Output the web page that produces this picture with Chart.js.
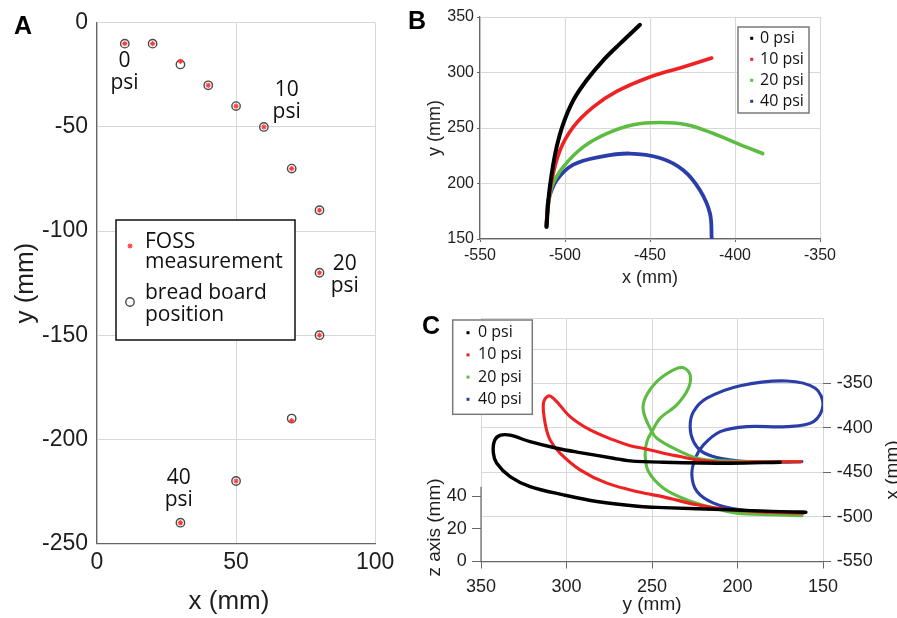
<!DOCTYPE html>
<html>
<head>
<meta charset="utf-8">
<script src="https://cdn.jsdelivr.net/npm/chart.js@4.4.1/dist/chart.umd.min.js"></script>
<style>
    html, body { margin: 0; padding: 0; background: #fff; }
    body { width: 897px; height: 618px; position: relative; overflow: hidden; }
    .painel { position: absolute; }
    #painelA { left: 0; top: 0; width: 400px; height: 618px; }
    #painelB { left: 400px; top: 0; width: 497px; height: 300px; }
    #painelC { left: 400px; top: 300px; width: 497px; height: 318px; }
</style>
</head>
<body>
<div class="painel" id="painelA"><canvas id="graficoA"></canvas></div>
<div class="painel" id="painelB"><canvas id="graficoB"></canvas></div>
<div class="painel" id="painelC"><canvas id="graficoC"></canvas></div>
<script>
// ---- Painel A: posições no plano (mm) ----
const aBoardX = [10, 20, 30, 40, 50, 60, 70, 80, 80, 80, 70, 50, 30];
const aBoardY = [-10, -10, -20, -30, -40, -50, -70, -90, -120, -150, -190, -220, -240];
const aFossX = [10, 20, 30, 40, 50, 60, 70, 80, 80, 80, 70, 50, 30];
const aFossY = [-10, -10, -18.5, -30, -40, -50, -70, -90, -120, -150, -191, -220, -240];
const aTicksX = [0, 50, 100];
const aTicksY = [-250, -200, -150, -100, -50, 0];
// rótulos de pressão (texto e ponto de ancoragem em mm)
const aPsiText = ['0', '10', '20', '40'];
const aPsiX = [9.9, 68.2, 89.1, 29.4];
const aPsiY = [-23.5, -37.6, -121.1, -224];

// ---- Painel B: trajetória da ponta, x (mm) vs y (mm) ----
const psiLabels = ['0 psi', '10 psi', '20 psi', '40 psi'];
const psiColors = ['#000000', '#ee2222', '#5cbd42', '#2b3ea8'];
const b0x = [-510.8, -509.8, -507.8, -504.9, -501, -495.1, -487.3, -477.5, -467.6, -455.9];
const b0y = [161, 185, 209, 233, 254, 275, 293, 311, 326, 343];
const b10x = [-511, -510.5, -507.8, -502.9, -495.1, -483.3, -469.6, -450, -430.4, -413.7];
const b10y = [162, 173, 203, 230, 251, 269, 283, 296, 305, 313];
const b20x = [-511, -510.5, -507.8, -501, -489.2, -475.5, -459.8, -444.1, -428.4, -412.7, -397.1, -383.7];
const b20y = [162, 170, 197, 215, 233, 245, 253, 255, 253, 245, 235, 227];
const b40x = [-511, -510.5, -509.8, -504.9, -495.1, -479.4, -461.8, -444.1, -430.4, -420.6, -414.7, -413.7];
const b40y = [161, 172, 185, 203, 217, 224, 227, 223, 212, 194, 173, 150];
const bTicksX = [-550, -500, -450, -400, -350];
const bTicksY = [150, 200, 250, 300, 350];

// ---- Painel C: vista 3D, y (mm) na horizontal e x (mm) no eixo da direita ----
const c0y = [175, 204.3, 243.3, 262.8, 272.6, 292.1, 305.7, 321.3, 333, 338.5, 342, 342.8, 340.8, 333, 321.3, 301.8, 282.3, 256.9, 243.3, 204.3, 180, 160];
const c0x = [-438.6, -439.7, -438.6, -437.1, -434.1, -427.8, -422.9, -415.5, -408.3, -408.3, -414, -428, -439.7, -454.7, -465.9, -475.2, -482.7, -488.3, -489.5, -492, -493.8, -494.8];
const c10y = [163, 187, 208.2, 214, 223.7, 233.5, 243.3, 253, 262.8, 272.6, 286.2, 297.9, 306.7, 310.6, 313.5, 312.5, 309.6, 303.8, 292.1, 276.4, 256.9, 243.3, 223.7, 204.3, 181, 161.5];
const c10x = [-438, -438.2, -438.6, -437.9, -436, -432.3, -428.5, -424, -420, -413.6, -402.4, -387.4, -368.7, -364.2, -372.4, -394.8, -413.6, -428.5, -447.2, -462.1, -472.4, -477.5, -486.4, -492, -494.8, -495.7];
const c20y = [163.3, 186.7, 208.2, 223.7, 237.4, 247.2, 250.1, 255, 254, 247.2, 237.4, 231.6, 227.7, 228.7, 235.5, 245.2, 250.1, 253, 254, 252.1, 243.3, 229.6, 214, 200.3, 180, 162.3];
const c20x = [-437.9, -437.9, -437.1, -434.1, -422.9, -411.7, -404.3, -381.8, -366.8, -348.2, -335.1, -332.5, -340.7, -355.6, -374.3, -389.2, -404.3, -415.5, -430.4, -449.1, -467.7, -480.8, -490.1, -495.7, -497.5, -498.5];
const c40y = [162.3, 176.9, 192.6, 200.3, 212, 220.8, 225.7, 227.7, 225.7, 217.9, 198.4, 171.1, 154.5, 150, 155.5, 171.1, 194.5, 210.1, 219.9, 224.7, 226.7, 223.7, 214, 198.4, 180.8, 161.4];
const c40x = [-437.9, -438.6, -437.9, -437.1, -433.4, -426.7, -415.5, -398.7, -381.8, -366.8, -352.7, -347.4, -355.6, -374.3, -393, -398.7, -398.7, -404.3, -419.2, -434.1, -452.8, -471.5, -484.5, -492, -493.9, -494.6];
const cTicksY = [150, 200, 250, 300, 350];
const cTicksX = [-550, -500, -450, -400, -350];
const cGridExtraX = [-312.7, -276.8];
const cTicksZ = [0, 20, 40];

// cores e fontes
const gridColor = '#d8d8d8';
const axisColor = '#666666';
const textColor = '#1e1e1e';
const sansFont = '"Liberation Sans", Arial, sans-serif';
const labelFont = '"Open Sans", sans-serif';

Chart.defaults.font.family = sansFont;
Chart.defaults.color = textColor;
Chart.defaults.animation = false;

// Funções auxiliares dos eixos
function setTicks(values) {
    return (scale) => { scale.ticks = values.map((v) => ({ value: v })); };
}
function setWidth(w) {
    return (scale) => { scale.width = w; };
}
function setHeight(h) {
    return (scale) => { scale.height = h; };
}
function toPoints(xs, ys) {
    return xs.map((x, i) => ({ x: x, y: ys[i] }));
}

function drawLetter(ctx, letter, x, y) {
    ctx.save();
    ctx.font = 'bold 25px ' + sansFont;
    ctx.fillStyle = '#000';
    ctx.textAlign = 'center';
    ctx.textBaseline = 'middle';
    ctx.fillText(letter, x, y);
    ctx.restore();
}

// Legenda das curvas de pressão (painéis B e C)
function drawPsiLegend(ctx, datasets, box) {
    ctx.save();
    ctx.fillStyle = '#fff';
    ctx.fillRect(box.x, box.y, box.w, box.h);
    ctx.strokeStyle = '#7a7a7a';
    ctx.lineWidth = 1.5;
    ctx.strokeRect(box.x, box.y, box.w, box.h);
    ctx.font = '16px ' + labelFont;
    ctx.textBaseline = 'middle';
    ctx.textAlign = 'left';
    datasets.forEach((ds, i) => {
        const cy = box.y + box.first + i * box.step;
        ctx.fillStyle = ds.borderColor;
        ctx.fillRect(box.dot - 1.5, cy - 1.5, 3, 3);
        ctx.fillStyle = '#111';
        ctx.fillText(ds.label, box.text, cy);
    });
    ctx.restore();
}

function curveDataset(label, color, xs, ys, width) {
    return {
        label: label,
        data: toPoints(xs, ys),
        showLine: true,
        borderColor: color,
        backgroundColor: color,
        borderWidth: width,
        pointRadius: 0,
        tension: 0.35,
        borderCapStyle: 'round',
        borderJoinStyle: 'round'
    };
}

// ---------------- Painel A ----------------
const pluginA = {
    id: 'anotacoesA',
    afterDraw(chart) {
        const ctx = chart.ctx;
        const sx = chart.scales.x;
        const sy = chart.scales.y;
        ctx.save();
        // rótulos de pressão
        ctx.font = '21px ' + labelFont;
        ctx.fillStyle = '#111';
        ctx.textAlign = 'center';
        ctx.textBaseline = 'middle';
        aPsiText.forEach((t, i) => {
            const px = sx.getPixelForValue(aPsiX[i]);
            const py = sy.getPixelForValue(aPsiY[i]);
            ctx.fillText(t, px, py - 11);
            ctx.fillText('psi', px, py + 11);
        });
        // título do eixo x (um pouco à esquerda do centro, como no original)
        ctx.font = '26px ' + sansFont;
        ctx.fillStyle = textColor;
        ctx.fillText('x (mm)', 229, 602);
        // legenda
        ctx.fillStyle = '#fff';
        ctx.fillRect(116, 220, 179, 120);
        ctx.strokeStyle = '#111';
        ctx.lineWidth = 1.5;
        ctx.strokeRect(116, 220, 179, 120);
        const ds = chart.data.datasets;
        ctx.strokeStyle = ds[0].borderColor;
        ctx.lineWidth = ds[0].borderWidth;
        Chart.helpers.drawPoint(ctx, { pointStyle: 'star', radius: ds[0].pointRadius, borderWidth: ds[0].borderWidth, rotation: 0 }, 130, 246);
        ctx.strokeStyle = ds[1].borderColor;
        ctx.fillStyle = 'rgba(255,255,255,0)';
        ctx.lineWidth = ds[1].borderWidth;
        Chart.helpers.drawPoint(ctx, { pointStyle: 'circle', radius: ds[1].pointRadius, borderWidth: ds[1].borderWidth, rotation: 0 }, 130, 302);
        ctx.font = '21px ' + labelFont;
        ctx.fillStyle = '#111';
        ctx.textAlign = 'left';
        ctx.fillText('FOSS', 145, 242);
        ctx.fillText('measurement', 145, 262);
        ctx.fillText('bread board', 145, 293);
        ctx.fillText('position', 145, 315);
        ctx.restore();
        drawLetter(ctx, 'A', 23, 27);
    }
};

new Chart(document.getElementById('graficoA'), {
    type: 'scatter',
    data: {
        datasets: [{
            label: 'FOSS measurement',
            data: toPoints(aFossX, aFossY),
            pointStyle: 'star',
            pointRadius: 2.6,
            borderColor: '#ff3b3b',
            backgroundColor: '#ff3b3b',
            borderWidth: 1.1
        }, {
            label: 'bread board position',
            data: toPoints(aBoardX, aBoardY),
            pointStyle: 'circle',
            pointRadius: 4.2,
            borderColor: '#4a4a4a',
            backgroundColor: 'rgba(255,255,255,0)',
            borderWidth: 1.4
        }]
    },
    options: {
        responsive: true,
        maintainAspectRatio: false,
        layout: { padding: { top: 19.5, right: 21, left: 0, bottom: 0 } },
        plugins: { legend: { display: false }, tooltip: { enabled: false } },
        scales: {
            x: {
                type: 'linear', min: 0, max: 100,
                afterBuildTicks: setTicks(aTicksX),
                afterFit: setHeight(74.5),
                grid: { color: gridColor, drawTicks: false },
                border: { color: axisColor, width: 1.2 },
                ticks: { font: { size: 23 }, padding: 5.7, color: textColor }
            },
            y: {
                type: 'linear', min: -250, max: 0,
                afterBuildTicks: setTicks(aTicksY),
                afterFit: setWidth(97),
                grid: { color: gridColor, drawTicks: false },
                border: { color: axisColor, width: 1.2 },
                ticks: { font: { size: 23 }, padding: 9, color: textColor },
                title: { display: true, text: 'y (mm)', font: { size: 26 }, padding: { top: 10.4, bottom: 0 }, color: textColor }
            }
        }
    },
    plugins: [pluginA]
});

// ---------------- Painel B ----------------
const pluginB = {
    id: 'anotacoesB',
    afterDraw(chart) {
        drawPsiLegend(chart.ctx, chart.data.datasets, { x: 338, y: 27, w: 71, h: 86, first: 11.3, step: 21, dot: 351.7, text: 360 });
        drawLetter(chart.ctx, 'B', 17, 22.5);
    }
};

new Chart(document.getElementById('graficoB'), {
    type: 'scatter',
    data: {
        datasets: [
            curveDataset(psiLabels[0], psiColors[0], b0x, b0y, 4),
            curveDataset(psiLabels[1], psiColors[1], b10x, b10y, 3.6),
            curveDataset(psiLabels[2], psiColors[2], b20x, b20y, 3.6),
            curveDataset(psiLabels[3], psiColors[3], b40x, b40y, 3.8)
        ]
    },
    options: {
        responsive: true,
        maintainAspectRatio: false,
        layout: { padding: { top: 17, right: 77, left: 0, bottom: 0 } },
        plugins: { legend: { display: false }, tooltip: { enabled: false } },
        scales: {
            x: {
                type: 'linear', min: -550, max: -350,
                afterBuildTicks: setTicks(bTicksX),
                afterFit: setHeight(61),
                grid: { color: gridColor, drawTicks: true, tickLength: 3, tickColor: axisColor },
                border: { color: axisColor, width: 1.2 },
                ticks: { font: { size: 16 }, padding: 4.4, color: textColor, callback: (v) => String(v) },
                title: { display: true, text: 'x (mm)', font: { size: 18 }, padding: { top: 0, bottom: 11.2 }, color: textColor }
            },
            y: {
                type: 'linear', min: 150, max: 350,
                afterBuildTicks: setTicks(bTicksY),
                afterFit: setWidth(80),
                grid: { color: gridColor, drawTicks: true, tickLength: 3, tickColor: axisColor },
                border: { color: axisColor, width: 1.2 },
                ticks: { font: { size: 16 }, padding: 3, color: textColor },
                title: { display: true, text: 'y (mm)', font: { size: 18 }, padding: { top: 24.2, bottom: 0 }, color: textColor }
            }
        }
    },
    plugins: [pluginB]
});

// ---------------- Painel C ----------------
const cZAxisTop = 46;
const pluginC = {
    id: 'anotacoesC',
    afterDraw(chart) {
        const ctx = chart.ctx;
        const area = chart.chartArea;
        const sz = chart.scales.z;
        ctx.save();
        // trecho escuro do eixo z
        ctx.strokeStyle = axisColor;
        ctx.lineWidth = 1.2;
        ctx.beginPath();
        ctx.moveTo(area.left, sz.getPixelForValue(0));
        ctx.lineTo(area.left, sz.getPixelForValue(cZAxisTop));
        ctx.stroke();
        // títulos dos eixos laterais
        ctx.fillStyle = textColor;
        ctx.font = '19px ' + sansFont;
        ctx.textAlign = 'center';
        ctx.textBaseline = 'middle';
        ctx.save();
        ctx.translate(35, 227.5);
        ctx.rotate(-Math.PI / 2);
        ctx.fillText('z axis (mm)', 0, 0);
        ctx.restore();
        ctx.save();
        ctx.translate(493, 170);
        ctx.rotate(-Math.PI / 2);
        ctx.fillText('x (mm)', 0, 0);
        ctx.restore();
        ctx.restore();
        drawPsiLegend(ctx, chart.data.datasets, { x: 52.7, y: 20, w: 79.6, h: 94.3, first: 12.7, step: 22.2, dot: 68, text: 78 });
        drawLetter(ctx, 'C', 31, 27.5);
    }
};

new Chart(document.getElementById('graficoC'), {
    type: 'scatter',
    data: {
        datasets: [
            Object.assign(curveDataset(psiLabels[0], psiColors[0], c0y, c0x, 3.4), { xAxisID: 'x', yAxisID: 'xr' }),
            Object.assign(curveDataset(psiLabels[1], psiColors[1], c10y, c10x, 3.1), { xAxisID: 'x', yAxisID: 'xr' }),
            Object.assign(curveDataset(psiLabels[2], psiColors[2], c20y, c20x, 3.1), { xAxisID: 'x', yAxisID: 'xr' }),
            Object.assign(curveDataset(psiLabels[3], psiColors[3], c40y, c40x, 3.1), { xAxisID: 'x', yAxisID: 'xr' })
        ]
    },
    options: {
        responsive: true,
        maintainAspectRatio: false,
        layout: { padding: { top: 18, right: 0, left: 0, bottom: 0 } },
        plugins: { legend: { display: false }, tooltip: { enabled: false } },
        scales: {
            x: {
                type: 'linear', position: 'bottom', min: 150, max: 350, reverse: true,
                afterBuildTicks: setTicks(cTicksY),
                afterFit: setHeight(56.5),
                grid: { color: gridColor, drawTicks: true, tickLength: 7, tickColor: axisColor },
                border: { color: axisColor, width: 1.2 },
                ticks: { font: { size: 18 }, padding: 8, color: textColor },
                title: { display: true, text: 'y (mm)', font: { size: 19 }, padding: { top: 0, bottom: 1.6 }, color: textColor }
            },
            z: {
                type: 'linear', position: 'left', min: 0, max: 149.8,
                afterBuildTicks: setTicks(cTicksZ),
                afterFit: setWidth(81),
                grid: { drawOnChartArea: false, drawTicks: true, tickLength: 9, tickColor: axisColor, color: axisColor },
                border: { display: false },
                ticks: { font: { size: 18 }, padding: 5.3, color: textColor }
            },
            xr: {
                type: 'linear', position: 'right', min: -550, max: -276.8,
                afterBuildTicks: setTicks(cTicksX.concat(cGridExtraX)),
                afterFit: setWidth(74),
                grid: {
                    color: gridColor, drawTicks: true, tickLength: 8,
                    tickColor: (ctx) => (ctx.tick && cTicksX.includes(ctx.tick.value)) ? axisColor : 'rgba(0,0,0,0)'
                },
                border: { display: false },
                ticks: { font: { size: 18 }, padding: 5.7, color: textColor, callback: (v) => cTicksX.includes(v) ? String(v) : '' }
            }
        }
    },
    plugins: [pluginC]
});
</script>
</body>
</html>
